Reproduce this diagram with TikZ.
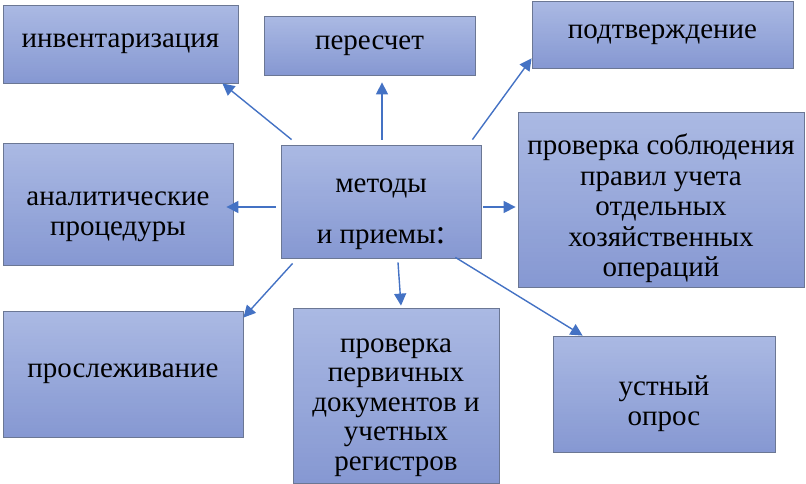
\documentclass[tikz,border=0pt]{standalone}
\usepackage{fontspec}
\newfontfamily\timesfont{Liberation Serif}
\usetikzlibrary{arrows.meta,calc}
\pgfdeclarelayer{background}
\pgfsetlayers{background,main}
\definecolor{boxline}{HTML}{6B7794}
\definecolor{boxtop}{HTML}{AAB9E3}
\definecolor{boxbot}{HTML}{8698D2}
\definecolor{arrblue}{HTML}{4472C4}
\tikzset{
  mbox/.style={draw=boxline, line width=0.8pt,
    inner sep=0pt, font=\timesfont\fontsize{29}{30.5}\selectfont},
  arr/.style={draw=arrblue, line width=1.4pt, -{Triangle[length=12pt,width=12pt]}}
}
\newcommand{\lines}[1]{\begin{tabular}{@{}c@{}}\rule{0pt}{10pt}\\[-10pt]#1\end{tabular}}
\newcommand{\gradbox}[1]{%
  \begin{pgfonlayer}{background}
  \foreach \i in {0,...,39}{
    \pgfmathtruncatemacro{\pc}{100*\i/39}
    \fill[boxbot!\pc!boxtop]
      ($(#1.north west)!{\i/40}!(#1.south west)$)
      rectangle
      ($(#1.north east)!{min(1,(\i+1.5)/40)}!(#1.south east)$);
  }
  \end{pgfonlayer}}
\begin{document}
\begin{tikzpicture}[x=1pt,y=-1pt]
\useasboundingbox (0,0) rectangle (806,484);
\node[mbox, minimum width=235pt, minimum height=78pt] (inv) at (120.5,44) {инвентаризация};
\node[mbox, minimum width=211pt, minimum height=59pt] (per) at (369.5,45.5) {пересчет};
\node[mbox, minimum width=261pt, minimum height=67pt] (pod) at (662.5,34.5) {подтверждение};
\node[mbox, minimum width=286pt, minimum height=175pt] (prs) at (661,199.5) {\lines{проверка соблюдения\\правил учета\\отдельных\\хозяйственных\\операций}};
\node[mbox, minimum width=200pt, minimum height=113pt] (met) at (381,201.5) {\lines{методы\\[20pt]и приемы{\fontsize{34}{34}\selectfont:}}};
\node[mbox, minimum width=230pt, minimum height=122pt] (ana) at (118,204) {\lines{аналитические\\процедуры}};
\node[mbox, minimum width=240pt, minimum height=126pt] (prl) at (123,374) {прослеживание};
\node[mbox, minimum width=206pt, minimum height=175pt, font=\timesfont\fontsize{29}{29.5}\selectfont] (ppd) at (396,395.5) {\lines{проверка\\первичных\\документов и\\учетных\\регистров}};
\node[mbox, minimum width=222pt, minimum height=116pt] (ust) at (664,394) {\lines{устный\\опрос}};

\gradbox{inv}\gradbox{per}\gradbox{pod}\gradbox{prs}\gradbox{met}
\gradbox{ana}\gradbox{prl}\gradbox{ppd}\gradbox{ust}

\draw[arr] ([xshift=11pt,yshift=5pt]met.north west) -- ([xshift=-16pt]inv.south east);
\draw[arr] ([xshift=1pt,yshift=5pt]met.north) -- ([xshift=12.5pt,yshift=-7pt]per.south);
\draw[arr] ([xshift=-9pt,yshift=5pt]met.north east) -- ([yshift=10pt]pod.south west);
\draw[arr] ([xshift=-5pt,yshift=-5.5pt]met.west) -- ([xshift=-7pt,yshift=-3pt]ana.east);
\draw[arr] ([xshift=2pt,yshift=-5.5pt]met.east) -- ([xshift=-2pt,yshift=-7.5pt]prs.west);
\draw[arr] ([xshift=12pt,yshift=-5pt]met.south west) -- ([yshift=-7pt]prl.north east);
\draw[arr] ([xshift=17pt,yshift=-4pt]met.south) -- ([xshift=5pt,yshift=2pt]ppd.north);
\draw[arr] ([xshift=-26pt,yshift=1pt]met.south east) -- ([xshift=30pt]ust.north west);
\end{tikzpicture}
\end{document}
